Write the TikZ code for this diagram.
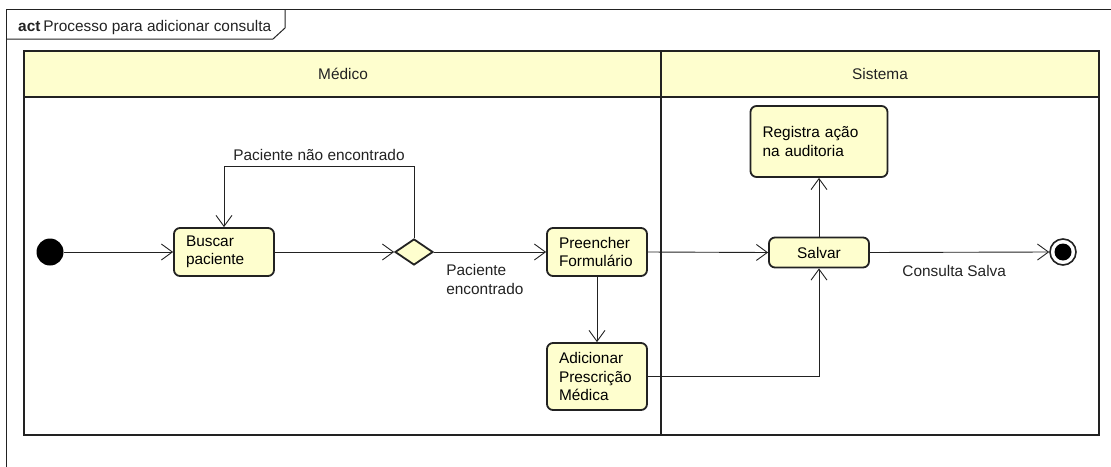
\documentclass[tikz,border=0pt]{standalone}
\usepackage{fontspec}
\setmainfont{Liberation Sans}
\usetikzlibrary{arrows.meta,shapes.geometric}
\definecolor{actfill}{RGB}{254,254,206}
\definecolor{lanefill}{RGB}{254,254,206}
\definecolor{lineclr}{RGB}{34,34,34}
\begin{document}
\begin{tikzpicture}[x=1pt,y=-1pt,
  every node/.style={font=\fontsize{15.4}{18.5}\selectfont},
  action/.style={draw=lineclr, line width=1.8pt, fill=actfill, rounded corners=6pt,
    inner xsep=12pt, inner ysep=0pt, align=left},
  arr/.style={draw=lineclr, line width=0.9pt, -{Straight Barb[length=11pt,width=16pt,line width=0.9pt]}},
  lbl/.style={inner sep=0pt, text=lineclr},
  lane/.style={draw=lineclr, line width=2.6pt}
]
\useasboundingbox (0,0) rectangle (1111,466);
% frame
\draw[lineclr, line width=1pt] (6,470) -- (6,9) -- (1115,9);
\draw[lineclr, line width=1pt] (6,39) -- (273,39) -- (285,28) -- (285,9);
\node[lbl, anchor=base west] (title) at (18,31) {\textbf{act}\hspace{3pt}Processo para adicionar consulta};
% swimlanes
\fill[lanefill] (24,51) rectangle (1099,97);
\draw[lane] (24,51) rectangle (1099,435);
\draw[lane] (24,97) -- (1099,97);
\draw[lane] (661,51) -- (661,435);
\node[lbl] (medico) at (343,74) {Médico};
\node[lbl] (sistema) at (880,74) {Sistema};
% nodes
\node[circle, fill=black, minimum size=27pt, inner sep=0pt] (init) at (50,252) {};
\node[action, text width=76pt, minimum height=48pt] (buscar) at (224,252) {Buscar\\paciente};
\node[diamond, draw=lineclr, line width=1.8pt, fill=actfill, minimum width=38pt, minimum height=26pt, inner sep=0pt] (dec) at (414,252) {};
\node[action, text width=76pt, minimum height=48pt] (preencher) at (597,252) {Preencher\\Formulário};
\node[action, text width=76pt, minimum height=67pt] (adicionar) at (597,376.5) {Adicionar\\Prescrição\\Médica};
\node[action, text width=113pt, minimum height=71pt] (registra) at (819,141.5) {Registra ação\\na auditoria};
\node[action, text width=76pt, minimum height=30pt, align=center] (salvar) at (819,252.5) {Salvar};
\node[circle, draw=lineclr, line width=1.6pt, fill=white, minimum size=26pt, inner sep=0pt,
  path picture={\fill[black] (path picture bounding box.center) circle (8.5pt);}] (final) at (1063,252) {};
% connectors
\coordinate (looptop) at (224,166);
\draw[arr] (init) -- (buscar);
\draw[arr] (buscar) -- (dec);
\draw[arr] (dec.north) |- node[lbl, pos=0.75, anchor=base, yshift=6pt] {Paciente não encontrado} (looptop) -- (buscar.north);
\draw[arr] (dec.east) -- node[lbl, at start, anchor=north west, xshift=12pt, yshift=-12pt, align=left] {Paciente\\encontrado} (preencher.west);
\draw[arr] (preencher) -- (adicionar);
\draw[arr] (preencher.east) -- (salvar.west);
\draw[arr] (adicionar.east) -| (salvar.south);
\draw[arr] (salvar) -- (registra);
\draw[arr] (salvar.east) -- node[lbl, pos=0.47, anchor=north, yshift=-13pt] {Consulta Salva} (final.west);
\end{tikzpicture}
\end{document}
